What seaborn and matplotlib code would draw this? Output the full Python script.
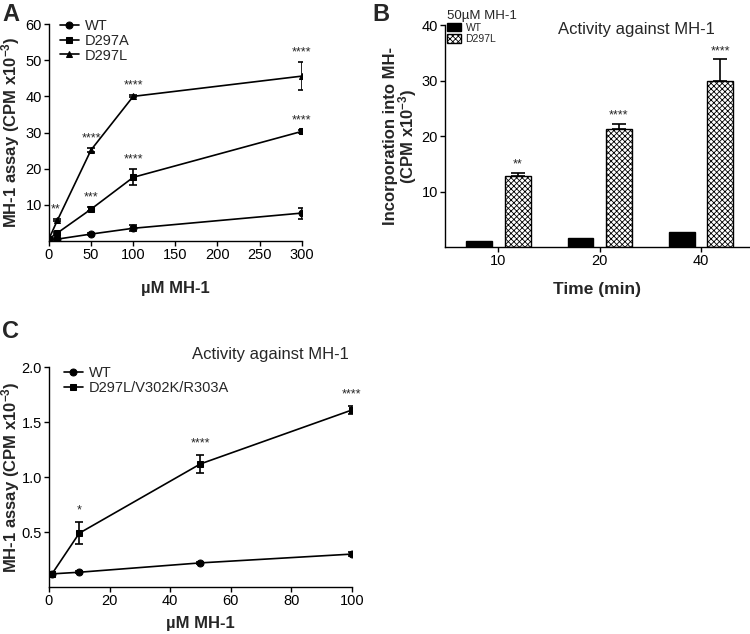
import numpy as np
import pandas as pd
import matplotlib
matplotlib.use("Agg")
import matplotlib.pyplot as plt
import seaborn as sns

# ---- data ----
# panel A: activity vs concentration
conc_a = [0, 10, 50, 100, 300]
wt_a = [0.4, 0.5, 1.9, 3.5, 7.7]
wt_a_err = [0.2, 0.2, 0.3, 0.8, 1.5]
d297a_a = [0.6, 2.2, 8.8, 17.6, 30.3]
d297a_a_err = [0.3, 0.4, 0.6, 2.2, 0.4]
d297l_a = [0.6, 5.7, 25.2, 40.0, 45.6]
d297l_a_err = [0.3, 0.3, 0.6, 0.3, 3.8]
stars_d297a_a = ["", "", "***", "****", "****"]
stars_d297l_a = ["", "**", "****", "****", "****"]

# panel B: time course at 50uM
times_b = ["10", "20", "40"]
wt_b = [1.1, 1.7, 2.7]
d297l_b = [12.8, 21.3, 30.0]
d297l_b_err = [0.6, 0.9, 3.9]
stars_b = ["**", "****", "****"]

# panel C: triple mutant
conc_c = [1, 10, 50, 100]
wt_c = [0.12, 0.135, 0.22, 0.30]
wt_c_err = [0.01, 0.01, 0.01, 0.015]
mut_c = [0.12, 0.49, 1.12, 1.61]
mut_c_err = [0.02, 0.10, 0.08, 0.04]
stars_c = ["", "*", "****", "****"]

sns.set_theme(style="ticks")
plt.rcParams['font.family'] = ['Liberation Sans', 'DejaVu Sans']
plt.rcParams['mathtext.default'] = 'regular'
plt.rcParams['hatch.linewidth'] = 0.6
plt.rcParams['axes.linewidth'] = 1.0

fig = plt.figure(figsize=(7.5, 6.34), dpi=100)


def style_axes(ax):
    sns.despine(ax=ax)
    ax.tick_params(axis='both', direction='out', length=3.5, width=1,
                   labelsize=10.5, color='black', labelcolor='black', pad=1.5)
    for s in ax.spines.values():
        s.set_color('black')


def line_panel(ax, x, series, markers):
    rows = []
    for name, vals, _ in series:
        for xi, yi in zip(x, vals):
            rows.append({'conc': xi, 'val': yi, 'series': name})
    df = pd.DataFrame(rows)
    sns.lineplot(data=df, x='conc', y='val', style='series', markers=markers,
                 dashes=False, color='black', markersize=5, linewidth=1.2,
                 markeredgecolor='black', ax=ax)
    for name, vals, err in series:
        ax.errorbar(x, vals, yerr=err, fmt='none', ecolor='black',
                    elinewidth=1.2, capsize=3, capthick=1.2)


# ---- panel A ----
axA = fig.add_axes([0.0653, 0.620, 0.337, 0.342])
line_panel(axA, conc_a,
           [("WT", wt_a, wt_a_err), ("D297A", d297a_a, d297a_a_err),
            ("D297L", d297l_a, d297l_a_err)],
           {"WT": "o", "D297A": "s", "D297L": "^"})
axA.set_xlim(0, 300)
axA.set_ylim(0, 60)
axA.set_xticks([0, 50, 100, 150, 200, 250, 300])
axA.set_yticks([10, 20, 30, 40, 50, 60])
for xi, yi, e, s in zip(conc_a, d297a_a, d297a_a_err, stars_d297a_a):
    if s:
        axA.text(xi, yi + e + 1.0, s, ha='center', va='bottom', fontsize=9)
for xi, yi, e, s in zip(conc_a, d297l_a, d297l_a_err, stars_d297l_a):
    if s:
        axA.text(xi - (2 if xi == 10 else 0), yi + e + 1.0, s, ha='center',
                 va='bottom', fontsize=9)
axA.set_xlabel("µM MH-1", fontsize=12, fontweight='bold', labelpad=14)
axA.set_ylabel("MH-1 assay (CPM x10$^{-3}$)", fontsize=12, fontweight='bold')
axA.yaxis.set_label_coords(-0.108, 0.5)
axA.legend(loc='upper left', bbox_to_anchor=(0.02, 1.05), frameon=False,
           fontsize=10.5, handlelength=1.3, handletextpad=0.4, labelspacing=0.05,
           borderaxespad=0)
style_axes(axA)

# ---- panel B ----
axB = fig.add_axes([0.593, 0.610, 0.405, 0.350])
dfb = pd.DataFrame({
    'time': times_b * 2,
    'val': wt_b + d297l_b,
    'series': ["WT"] * 3 + ["D297L"] * 3,
})
sns.barplot(data=dfb, x='time', y='val', hue='series',
            palette={"WT": "black", "D297L": "white"}, edgecolor='black',
            linewidth=1.0, width=0.76, gap=0.33, errorbar=None, ax=axB)
for bar in axB.containers[1]:
    bar.set_hatch('xxxxxx')
bx = [b.get_x() + b.get_width() / 2 for b in axB.containers[1]]
by = [b.get_height() for b in axB.containers[1]]
axB.errorbar(bx, by, yerr=[[0] * len(by), d297l_b_err], fmt='none',
             ecolor='black', elinewidth=1.2, capsize=5, capthick=1.2)
for xi, yi, e, s in zip(bx, by, d297l_b_err, stars_b):
    axB.text(xi, yi + e + 0.4, s, ha='center', va='bottom', fontsize=9)
axB.set_xlim(-0.53, 2.47)
axB.set_ylim(0, 40)
axB.set_yticks([10, 20, 30, 40])
axB.set_xlabel("Time (min)", fontsize=12.5, fontweight='bold', labelpad=10)
axB.set_ylabel("Incorporation into MH-\n(CPM x10$^{-3}$)", fontsize=12,
               fontweight='bold', linespacing=0.9)
axB.yaxis.set_label_coords(-0.085, 0.5)
axB.text(0.63, 1.015, "Activity against MH-1", transform=axB.transAxes,
         ha='center', va='top', fontsize=12)
axB.legend(handles=axB.containers, labels=["WT", "D297L"], title="50µM MH-1",
           loc='upper left', bbox_to_anchor=(0.0, 1.08), frameon=False,
           fontsize=7.5, title_fontsize=9.5, handlelength=1.4, handleheight=0.9,
           handletextpad=0.4, labelspacing=0.1, borderaxespad=0, borderpad=0.2)
axB.get_legend()._legend_box.align = "left"
style_axes(axB)

# ---- panel C ----
axC = fig.add_axes([0.0653, 0.074, 0.404, 0.347])
line_panel(axC, conc_c,
           [("WT", wt_c, wt_c_err), ("D297L/V302K/R303A", mut_c, mut_c_err)],
           {"WT": "o", "D297L/V302K/R303A": "s"})
axC.set_xlim(0, 100)
axC.set_ylim(0, 2.0)
axC.set_xticks([0, 20, 40, 60, 80, 100])
axC.set_yticks([0.5, 1.0, 1.5, 2.0])
axC.set_yticklabels(["0.5", "1.0", "1.5", "2.0"])
for xi, yi, e, s in zip(conc_c, mut_c, mut_c_err, stars_c):
    if s:
        axC.text(xi, yi + e + 0.05, s, ha='center', va='bottom', fontsize=9)
axC.text(0.73, 1.025, "Activity against MH-1", transform=axC.transAxes,
         ha='center', va='bottom', fontsize=12)
axC.set_xlabel("µM MH-1", fontsize=12, fontweight='bold', labelpad=6)
axC.set_ylabel("MH-1 assay (CPM x10$^{-3}$)", fontsize=12, fontweight='bold')
axC.yaxis.set_label_coords(-0.09, 0.5)
axC.legend(loc='upper left', bbox_to_anchor=(0.03, 1.03), frameon=False,
           fontsize=10.5, handlelength=1.3, handletextpad=0.4, labelspacing=0.05,
           borderaxespad=0)
style_axes(axC)

# panel letters
fig.text(0.003, 0.995, "A", fontsize=17, fontweight='bold', va='top')
fig.text(0.497, 0.995, "B", fontsize=17, fontweight='bold', va='top')
fig.text(0.003, 0.495, "C", fontsize=17, fontweight='bold', va='top')

fig.savefig("out.png", dpi=100)
